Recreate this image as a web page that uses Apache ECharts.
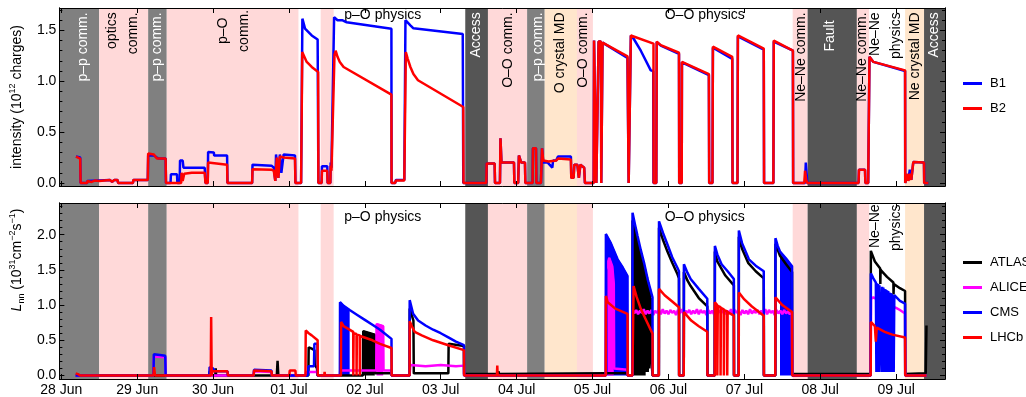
<!DOCTYPE html>
<html><head><meta charset="utf-8">
<script src="https://cdn.jsdelivr.net/npm/echarts@6/dist/echarts.min.js"></script>
<style>html,body{margin:0;padding:0;background:#fff}#c{width:1026px;height:397px}</style>
</head><body><div id="c"></div><script>
// ---------- DATA (time in days since 28 Jun 00:00) ----------
const dayTicks = [0,1,2,3,4,5,6,7,8,9,10,11];
const dayLabels = ['28 Jun','29 Jun','30 Jun','01 Jul','02 Jul','03 Jul','04 Jul','05 Jul','06 Jul','07 Jul','08 Jul','09 Jul'];
const topMajor = [0,0.5,1.0,1.5];
const topMinor = [0,0.1,0.2,0.3,0.4,0.5,0.6,0.7,0.8,0.9,1.0,1.1,1.2,1.3,1.4,1.5,1.6,1.7];
const botMajor = [0,0.5,1.0,1.5,2.0];
const botMinor = [0,0.1,0.2,0.3,0.4,0.5,0.6,0.7,0.8,0.9,1.0,1.1,1.2,1.3,1.4,1.5,1.6,1.7,1.8,1.9,2.0,2.1,2.2,2.3,2.4];

const regionStart = [-0.025,0.5,1.145,1.39,3.418,5.323,5.622,6.138,6.37,6.795,9.637,9.834,10.483,11.118,11.368];
const regionEnd   = [0.5,1.145,1.39,3.125,3.589,5.622,6.138,6.37,6.795,7.005,9.834,10.483,10.645,11.368,11.644];
const regionKind  = ['pp','comm','pp','comm','comm','access','comm','pp','md','comm','comm','access','comm','md','access'];

const topLabelText = ['p–p comm.','optics\ncomm.','p–p comm.','p–O\ncomm.','p–O physics','Access','O–O comm.','p–p comm.','O crystal MD','O–O comm.','O–O physics','Ne–Ne comm.','Fault','Ne–Ne comm.','Ne–Ne\nphysics','Ne crystal MD','Access'];
const botLabelText = ['p–O physics','O–O physics','Ne–Ne\nphysics'];

const b1 = [[0.194,0.26],[0.25,0.25],[0.255,0],[0.34,0],[0.345,0.02],[0.64,0.03],[0.67,0.01],[0.70,0.03],[0.74,0.03],[0.75,0],[0.945,0],[0.95,0.03],[1.14,0.03],[1.145,0.27],[1.22,0.27],[1.26,0.25],[1.29,0.24],[1.375,0.24],[1.38,0],[1.44,0],[1.445,0.085],[1.525,0.085],[1.53,0],[1.56,0],[1.565,0.22],[1.60,0.22],[1.61,0.15],[1.89,0.15],[1.9,0],[1.93,0],[1.935,0.305],[2.01,0.3],[2.015,0.27],[2.185,0.27],[2.19,0],[2.515,0],[2.52,0.18],[2.77,0.17],[2.80,0.15],[2.82,0.02],[2.83,0.28],[2.86,0.05],[2.88,0.28],[2.90,0.1],[2.93,0.28],[3.08,0.27],[3.085,0],[3.16,0],[3.177,1.615],[3.212,1.517],[3.30,1.45],[3.378,1.41],[3.388,0],[3.43,0],[3.435,0.165],[3.505,0.165],[3.51,0],[3.545,0],[3.55,0.2],[3.56,0.15],[3.585,0.15],[3.595,1.63],[3.62,1.63],[3.64,1.6],[3.70,1.6],[3.76,1.58],[4.35,1.515],[4.352,0],[4.40,0],[4.41,0.03],[4.52,0.03],[4.535,1.6],[4.56,1.6],[4.60,1.55],[4.64,1.52],[5.29,1.465],[5.297,0],[5.60,0],[5.605,0.19],[5.71,0.19],[5.715,0],[5.78,0],[5.787,0.44],[5.80,0.2],[5.965,0.2],[5.97,0],[6.02,0],[6.03,0.27],[6.06,0.2],[6.11,0.2],[6.115,0],[6.21,0],[6.215,0.34],[6.255,0.34],[6.26,0],[6.32,0],[6.335,0.34],[6.35,0.2],[6.41,0.2],[6.47,0.15],[6.48,0.22],[6.52,0.22],[6.545,0.26],[6.715,0.26],[6.72,0.05],[6.75,0.05],[6.76,0.18],[6.80,0.18],[6.82,0.05],[6.84,0.18],[6.89,0.15],[6.90,0],[7.015,0],[7.02,1.40],[7.045,1.40],[7.05,0],[7.07,0],[7.08,1.39],[7.11,1.39],[7.115,0],[7.125,0],[7.132,1.38],[7.46,1.23],[7.474,1.22],[7.476,0],[7.50,0],[7.505,1.45],[7.54,1.42],[7.636,1.30],[7.767,1.107],[7.80,1.1],[7.803,0],[7.84,0],[7.846,1.385],[7.899,1.35],[8.139,1.27],[8.142,0],[8.175,0],[8.178,1.185],[8.533,1.06],[8.537,0],[8.58,0],[8.586,1.33],[8.841,1.22],[8.845,0],[8.91,0],[8.915,1.44],[9.256,1.31],[9.26,0],[9.383,0],[9.388,1.39],[9.64,1.30],[9.643,0],[9.80,0],[9.81,0.2],[9.826,0.2],[9.83,0],[10.505,0],[10.51,0.13],[10.59,0.13],[10.595,0],[10.632,0],[10.649,1.24],[10.70,1.19],[11.118,1.10],[11.12,0],[11.14,0],[11.15,0.09],[11.16,0.02],[11.18,0.13],[11.20,0.03],[11.22,0.03],[11.226,0.205],[11.367,0.2],[11.37,0],[11.425,0]];

const b2 = [[0.194,0.26],[0.25,0.24],[0.255,0],[0.34,0],[0.345,0.02],[0.40,0.01],[0.45,0.025],[0.50,0.02],[0.64,0.03],[0.67,0.01],[0.70,0.03],[0.74,0.03],[0.75,0],[0.945,0],[0.95,0.03],[1.14,0.03],[1.145,0.29],[1.22,0.28],[1.26,0.24],[1.375,0.24],[1.38,0],[1.58,0],[1.585,0.1],[1.60,0.02],[1.62,0.09],[1.72,0.1],[1.89,0.1],[1.9,0],[1.93,0],[1.935,0.2],[2.185,0.18],[2.19,0],[2.515,0],[2.52,0.135],[2.77,0.13],[2.80,0.12],[2.82,0.02],[2.84,0.25],[2.86,0.05],[2.88,0.26],[2.93,0.25],[3.08,0.24],[3.085,0],[3.16,0],[3.175,1.287],[3.234,1.19],[3.30,1.14],[3.385,1.09],[3.388,0],[3.43,0],[3.435,0.12],[3.505,0.12],[3.51,0],[3.545,0],[3.55,0.17],[3.56,0.12],[3.585,0.12],[3.60,1.26],[3.615,1.30],[3.64,1.24],[3.67,1.19],[3.72,1.14],[4.35,0.868],[4.352,0],[4.40,0],[4.41,0.025],[4.52,0.025],[4.54,1.287],[4.565,1.22],[4.60,1.14],[4.64,1.07],[4.70,1.01],[5.297,0.747],[5.30,0],[5.60,0],[5.605,0.19],[5.71,0.19],[5.715,0],[5.78,0],[5.787,0.44],[5.80,0.2],[5.965,0.2],[5.97,0],[6.02,0],[6.03,0.27],[6.06,0.2],[6.11,0.2],[6.115,0],[6.21,0],[6.215,0.34],[6.255,0.34],[6.26,0],[6.32,0],[6.335,0.34],[6.35,0.22],[6.42,0.21],[6.52,0.22],[6.545,0.24],[6.715,0.23],[6.72,0.05],[6.75,0.05],[6.76,0.18],[6.80,0.18],[6.82,0.05],[6.84,0.18],[6.89,0.15],[6.90,0],[7.015,0],[7.02,1.40],[7.045,1.40],[7.05,0],[7.07,0],[7.08,1.39],[7.11,1.39],[7.115,0],[7.125,0],[7.132,1.38],[7.461,1.245],[7.474,1.24],[7.476,0],[7.50,0],[7.505,1.45],[7.803,1.37],[7.805,0],[7.84,0],[7.846,1.39],[7.899,1.355],[8.139,1.28],[8.142,0],[8.175,0],[8.178,1.19],[8.533,1.07],[8.537,0],[8.58,0],[8.586,1.34],[8.841,1.24],[8.845,0],[8.91,0],[8.915,1.45],[9.256,1.32],[9.26,0],[9.383,0],[9.388,1.40],[9.64,1.30],[9.643,0],[9.79,0],[9.80,0.12],[9.815,0.03],[9.83,0],[10.505,0],[10.51,0.13],[10.59,0.13],[10.595,0],[10.632,0],[10.649,1.24],[10.70,1.19],[11.118,1.107],[11.12,0],[11.14,0],[11.15,0.09],[11.16,0.02],[11.18,0.09],[11.20,0.03],[11.22,0.03],[11.226,0.205],[11.367,0.2],[11.37,0],[11.425,0]];

const atlas = [[0.19,0],[1.95,0],[1.955,0.06],[1.96,0],[2.03,0],[2.035,0.1],[2.04,0],[2.84,0],[2.85,0.21],[2.86,0],[3.256,0],[3.26,0.4],[3.30,0.38],[3.335,0.36],[3.34,0.15],[3.37,0.1],[3.375,0],[3.975,0],[3.979,0.63],[4.131,0.58],[4.135,0.03],[4.351,0.03],[4.353,0],[4.589,0],[4.591,0.95],[4.62,0.85],[4.64,0.78],[4.645,0.03],[5.10,0.03],[5.104,0.45],[5.306,0.42],[5.308,0.02],[5.75,0.02],[5.76,0.06],[5.77,0.02],[7.176,0.03],[7.46,0.03],[7.463,0],[7.525,0],[7.527,2.2],[7.56,2.05],[7.593,1.9],[7.636,1.72],[7.68,1.55],[7.70,1.47],[7.707,0.05],[7.717,1.4],[7.727,0.05],[7.737,1.32],[7.747,0.1],[7.757,1.22],[7.767,0.2],[7.772,1.1],[7.776,0.25],[7.788,0.25],[7.79,0],[7.874,0],[7.876,2.1],[7.93,1.92],[7.987,1.76],[8.05,1.6],[8.118,1.44],[8.139,1.38],[8.141,0],[8.202,0],[8.204,1.47],[8.25,1.35],[8.293,1.27],[8.4,1.1],[8.512,0.98],[8.514,0],[8.61,0],[8.612,1.76],[8.644,1.62],[8.75,1.42],[8.862,1.28],[8.864,0],[8.926,0],[8.928,1.97],[8.97,1.8],[9.05,1.6],[9.15,1.48],[9.256,1.38],[9.258,0],[9.408,0],[9.41,1.87],[9.47,1.7],[9.55,1.58],[9.629,1.47],[9.631,0.02],[10.665,0.02],[10.667,1.77],[10.72,1.62],[10.79,1.52],[10.792,1.3],[10.795,1.5],[10.88,1.4],[10.964,1.32],[10.966,1.15],[10.97,1.3],[11.05,1.24],[11.118,1.2],[11.12,0.02],[11.39,0.03],[11.40,0.71]];
// dense bunch-by-bunch oscillation regions drawn as filled envelopes
const atlasBand = [[3.979,0.63],[4.131,0.58],[4.132,null],[7.527,2.2],[7.56,2.05],[7.593,1.9],[7.636,1.72],[7.68,1.55],[7.70,1.47]];

const alice = [[0.19,0],[1.215,0],[1.22,0.27],[1.37,0.26],[1.375,0],[2.535,0],[2.54,0.06],[2.77,0.05],[2.775,0],[3.22,0],[3.225,0.05],[3.378,0.05],[3.38,0],[3.671,0],[3.675,0.07],[4.15,0.07],[4.154,0.73],[4.242,0.70],[4.246,0.07],[4.351,0.07],[4.353,0],[4.589,0],[4.60,0.15],[4.8,0.13],[5.0,0.15],[5.2,0.13],[5.306,0.14],[5.308,0],[7.176,0],[7.18,1.5],[7.22,1.67],[7.26,1.55],[7.28,1.3],[7.285,0.1],[7.46,0.08],[7.463,0],[7.525,0],[7.53,0.93],[7.55,0.88],[7.575,0.93],[7.60,0.87],[7.625,0.92],[7.65,0.89],[7.675,0.94],[7.70,0.87],[7.725,0.92],[7.75,0.88],[7.775,0.93],[7.80,0.86],[7.825,0.92],[7.85,0.89],[7.875,0.93],[7.90,0.87],[7.925,0.94],[7.95,0.88],[7.975,0.92],[8.00,0.87],[8.025,0.93],[8.05,0.89],[8.075,0.92],[8.10,0.86],[8.125,0.93],[8.15,0.88],[8.175,0.94],[8.20,0.87],[8.225,0.92],[8.25,0.89],[8.275,0.93],[8.30,0.87],[8.325,0.92],[8.35,0.88],[8.375,0.94],[8.40,0.87],[8.425,0.93],[8.45,0.89],[8.475,0.92],[8.50,0.86],[8.525,0.93],[8.55,0.88],[8.575,0.92],[8.60,0.87],[8.625,0.94],[8.65,0.88],[8.675,0.92],[8.70,0.89],[8.725,0.93],[8.75,0.87],[8.775,0.92],[8.80,0.88],[8.825,0.94],[8.85,0.87],[8.875,0.93],[8.90,0.89],[8.925,0.92],[8.95,0.86],[8.975,0.93],[9.00,0.88],[9.025,0.92],[9.05,0.87],[9.075,0.94],[9.10,0.88],[9.125,0.92],[9.15,0.89],[9.175,0.93],[9.20,0.87],[9.225,0.92],[9.25,0.88],[9.275,0.94],[9.30,0.87],[9.325,0.93],[9.35,0.89],[9.375,0.92],[9.40,0.86],[9.425,0.93],[9.45,0.88],[9.475,0.92],[9.50,0.87],[9.525,0.93],[9.55,0.88],[9.575,0.91],[9.60,0.87],[9.625,0.9],[9.629,0.88],[9.631,0],[10.665,0],[10.67,1.09],[10.70,1.11],[10.75,1.08],[10.80,1.10],[10.83,1.07],[10.88,1.03],[10.95,0.98],[11.0,0.96],[11.05,0.93],[11.118,0.88],[11.12,0],[11.4,0]];
const aliceBand = [[4.154,0.73],[4.20,0.72],[4.242,0.70],[4.243,null],[7.20,1.6],[7.22,1.67],[7.26,1.55],[7.28,1.3]];

const cms = [[0.19,0],[1.215,0],[1.22,0.30],[1.30,0.29],[1.37,0.28],[1.375,0],[1.95,0],[1.955,0.12],[2.0,0.1],[2.03,0.06],[2.19,0.06],[2.195,0],[2.535,0],[2.54,0.08],[2.77,0.07],[2.775,0],[3.25,0],[3.256,0.13],[3.33,0.13],[3.335,0.45],[3.375,0.45],[3.378,0],[3.671,0],[3.673,1.04],[3.72,0.99],[3.80,0.93],[3.9,0.86],[4.0,0.79],[4.1,0.72],[4.2,0.65],[4.351,0.52],[4.353,0],[4.589,0],[4.591,1.07],[4.636,0.876],[4.702,0.78],[4.8,0.71],[4.9,0.65],[5.0,0.6],[5.1,0.54],[5.2,0.48],[5.306,0.43],[5.308,0],[7.174,0],[7.176,2.01],[7.241,1.88],[7.33,1.65],[7.40,1.53],[7.461,1.41],[7.463,0],[7.525,0],[7.527,2.31],[7.56,2.14],[7.593,1.98],[7.636,1.78],[7.679,1.6],[7.73,1.35],[7.79,1.11],[7.792,0],[7.874,0],[7.876,2.19],[7.93,2.02],[7.987,1.86],[8.05,1.68],[8.118,1.53],[8.139,1.48],[8.141,0],[8.202,0],[8.204,1.58],[8.25,1.46],[8.293,1.37],[8.4,1.23],[8.512,1.09],[8.514,0],[8.61,0],[8.612,1.84],[8.644,1.72],[8.7,1.58],[8.78,1.48],[8.862,1.37],[8.864,0],[8.926,0],[8.928,2.06],[8.97,1.88],[9.06,1.65],[9.15,1.56],[9.256,1.48],[9.258,0],[9.408,0],[9.41,1.95],[9.44,1.84],[9.47,1.76],[9.55,1.66],[9.629,1.55],[9.631,0],[10.665,0],[10.667,1.45],[10.70,1.38],[10.733,1.32],[10.74,0.05],[10.748,1.31],[10.756,0.05],[10.764,1.30],[10.772,0.05],[10.78,1.28],[10.80,1.27],[10.808,0.05],[10.816,1.26],[10.824,0.05],[10.832,1.25],[10.84,0.05],[10.848,1.23],[10.856,0.05],[10.864,1.22],[10.872,0.05],[10.88,1.21],[10.888,0.05],[10.896,1.20],[10.904,0.05],[10.912,1.18],[10.92,0.05],[10.928,1.17],[10.936,0.05],[10.944,1.16],[10.96,1.15],[10.968,0.05],[10.976,1.14],[11.05,1.06],[11.118,1.02],[11.12,0],[11.4,0]];
const cmsBand = [[3.673,1.04],[3.72,0.99],[3.80,0.93],[3.802,null],[7.176,2.01],[7.241,1.88],[7.33,1.65],[7.40,1.53],[7.461,1.41],[7.462,null],[9.47,1.76],[9.55,1.66],[9.62,1.56]];

const lhcb = [[0.19,0.03],[0.22,0.02],[0.25,0],[1.215,0],[1.223,0.12],[1.235,0],[1.97,0],[1.975,0.83],[1.982,0],[1.99,0.06],[2.19,0.06],[2.195,0],[2.535,0],[2.54,0.07],[2.77,0.06],[2.775,0],[3.005,0],[3.01,0.07],[3.085,0.07],[3.09,0],[3.218,0],[3.221,0.64],[3.26,0.6],[3.30,0.57],[3.378,0.5],[3.38,0],[3.465,0],[3.47,0.05],[3.475,0],[3.685,0],[3.687,0.76],[3.72,0.7],[3.77,0.67],[3.847,0.62],[3.848,0],[3.852,0.6],[3.89,0.59],[3.891,0],[3.895,0.58],[3.933,0.57],[3.934,0],[3.938,0.56],[4.1,0.5],[4.2,0.45],[4.351,0.39],[4.353,0],[4.589,0],[4.591,0.77],[4.62,0.7],[4.657,0.62],[4.75,0.57],[4.9,0.5],[5.1,0.43],[5.306,0.36],[5.308,0],[5.74,0],[5.745,0.14],[5.75,0],[7.174,0],[7.176,1.13],[7.2,1.04],[7.3,0.95],[7.461,0.876],[7.463,0],[7.525,0],[7.541,1.27],[7.58,1.12],[7.636,0.946],[7.7,0.8],[7.79,0.595],[7.792,0],[7.874,0],[7.876,1.23],[7.95,1.14],[8.05,1.05],[8.139,0.97],[8.141,0],[8.202,0],[8.204,0.9],[8.3,0.78],[8.4,0.7],[8.512,0.62],[8.514,0],[8.61,0],[8.612,1.04],[8.643,1.0],[8.644,0],[8.65,0.99],[8.686,0.97],[8.687,0],[8.692,0.96],[8.73,0.94],[8.731,0],[8.736,0.93],[8.774,0.91],[8.775,0],[8.78,0.9],[8.862,0.85],[8.864,0],[8.926,0],[8.928,1.18],[9.0,1.08],[9.1,0.98],[9.256,0.85],[9.258,0],[9.408,0],[9.41,1.11],[9.5,1.0],[9.629,0.9],[9.631,0],[10.665,0],[10.667,0.76],[10.72,0.7],[10.733,0.48],[10.745,0.68],[10.85,0.62],[10.95,0.58],[11.118,0.54],[11.12,0],[11.4,0]];

// ---------- STYLE / LAYOUT ----------
const FONT = 'Liberation Sans, Arial, sans-serif';
const LW = 2.5;
const regionColor = {pp:'#808080', access:'#555555', comm:'#ffd9d9', md:'#ffe6cc'};
const W = '#ffffff', K = '#000000';
const topLabelLayout = [
  {d:0.29,v:1.677,m:'v',c:W},{d:0.809,v:1.677,m:'v',c:K},{d:1.263,v:1.677,m:'v',c:W},{d:2.275,v:1.495,m:'vc',c:K},
  {d:3.729,v:1.647,m:'h',c:K},{d:5.468,v:1.677,m:'v',c:W},{d:5.884,v:1.677,m:'v',c:K},{d:6.279,v:1.677,m:'v',c:W},
  {d:6.572,v:1.677,m:'v',c:K},{d:6.870,v:1.677,m:'v',c:K},{d:7.951,v:1.647,m:'h',c:K},{d:9.748,v:1.677,m:'v',c:K},
  {d:10.133,v:1.598,m:'v',c:W},{d:10.557,v:1.677,m:'v',c:K},{d:10.868,v:1.677,m:'v',c:K},{d:11.249,v:1.677,m:'v',c:K},
  {d:11.499,v:1.677,m:'v',c:W}];
const botLabelLayout = [{d:3.729,v:2.253,m:'h',c:K},{d:7.951,v:2.253,m:'h',c:K},{d:10.868,v:2.43,m:'v',c:K}];

const chart = echarts.init(document.getElementById('c'), null, {renderer:'canvas'});

function markAreaData(){
  return regionStart.map((s,i)=>[{xAxis:s, itemStyle:{color:regionColor[regionKind[i]], opacity:1}},{xAxis:regionEnd[i]}]);
}
function labelSeries(texts, layout, xi, yi){
  return {type:'custom', xAxisIndex:xi, yAxisIndex:yi, silent:true, z:2, clip:false,
    data: layout.map((l,i)=>[l.d,l.v,i]),
    renderItem:(params, api)=>{
      const i = api.value(2), l = layout[i];
      const p = api.coord([api.value(0), api.value(1)]);
      const vert = l.m !== 'h';
      return {type:'text', x:p[0], y:p[1], rotation: vert ? Math.PI/2 : 0,
        style:{text:texts[i], fill:l.c, font:'14px '+FONT, lineHeight:21,
          align: l.m==='v' ? 'right' : (l.m==='vc' ? 'center' : 'left'), verticalAlign:'middle'}};
    }};
}
function line(name, data, color, xi, yi){
  return {name, type:'line', data, xAxisIndex:xi, yAxisIndex:yi, symbol:'none', showSymbol:false,
    lineStyle:{color, width:LW}, itemStyle:{color}, z:3, silent:true};
}
function band(name, data, color){
  return {name, type:'line', data, xAxisIndex:2, yAxisIndex:4, symbol:'none', showSymbol:false, connectNulls:false,
    lineStyle:{color, width:1.5}, itemStyle:{color}, areaStyle:{color, opacity:1}, z:3, silent:true};
}
function xAx(grid, pos, labels){
  return {type:'value', gridIndex:grid, position:pos, min:-0.025, max:11.644, z:10,
    axisLine:{show:true, onZero:false, lineStyle:{color:'#000', width:1}},
    axisTick:{show:true, inside:true, length:5, customValues:dayTicks, lineStyle:{color:'#000'}},
    axisLabel:{show:labels, customValues:dayTicks, margin:4, fontSize:14, fontFamily:FONT, color:'#000',
      formatter:(v)=>dayLabels[Math.round(v)]},
    splitLine:{show:false}};
}
function yAx(grid, pos, min, max, ticks, len, labels, extra){
  return Object.assign({type:'value', gridIndex:grid, position:pos, min, max, z:10,
    axisLine:{show:true, onZero:false, lineStyle:{color:'#000', width:1}},
    axisTick:{show:true, inside:true, length:len, customValues:ticks, lineStyle:{color:'#000'}},
    axisLabel:{show:labels, customValues:ticks, margin:3, fontSize:14, fontFamily:FONT, color:'#000',
      formatter:(v)=>v.toFixed(1)},
    splitLine:{show:false}}, extra||{});
}

const nameStyleTop = {fontSize:14, fontFamily:FONT, color:'#000', lineHeight:18,
  rich:{sup:{fontSize:9, fontFamily:FONT, color:'#000', verticalAlign:'top', lineHeight:18}}};
const nameStyleBot = {fontSize:14, fontFamily:FONT, color:'#000', lineHeight:18, padding:[0,0,0,62],
  rich:{it:{fontSize:14, fontStyle:'italic', fontFamily:FONT, color:'#000'},
        sub:{fontSize:9, fontFamily:FONT, color:'#000', verticalAlign:'bottom', lineHeight:18},
        sup:{fontSize:9, fontFamily:FONT, color:'#000', verticalAlign:'top', lineHeight:18}}};

const legendBase = {orient:'vertical', left:958, icon:'rect', itemWidth:19, itemHeight:3, itemGap:12, selectedMode:false,
  textStyle:{fontSize:13, fontFamily:FONT, color:'#000', padding:[0,0,0,3]}};

const option = {
  animation:false,
  backgroundColor:'#ffffff',
  textStyle:{fontFamily:FONT},
  grid:[{left:57, top:8, width:888, height:178},{left:57, top:203, width:888, height:178}],
  xAxis:[xAx(0,'bottom',false), xAx(0,'top',false), xAx(1,'bottom',true), xAx(1,'top',false)],
  yAxis:[
    yAx(0,'left',-0.03,1.72,topMajor,5,true,{name:'intensity (10{sup|12} charges)', nameLocation:'middle', nameGap:30, nameTextStyle:nameStyleTop}),
    yAx(0,'left',-0.03,1.72,topMinor,3,false),
    yAx(0,'right',-0.03,1.72,topMajor,5,false),
    yAx(0,'right',-0.03,1.72,topMinor,3,false),
    yAx(1,'left',-0.05,2.45,botMajor,5,true,{name:'{it|L}{sub|nn} (10{sup|31}cm{sup|−2}s{sup|−1})', nameLocation:'middle', nameGap:30, nameTextStyle:nameStyleBot}),
    yAx(1,'left',-0.05,2.45,botMinor,3,false),
    yAx(1,'right',-0.05,2.45,botMajor,5,false),
    yAx(1,'right',-0.05,2.45,botMinor,3,false)
  ],
  legend:[
    Object.assign({}, legendBase, {data:['B1','B2'], top:72}),
    Object.assign({}, legendBase, {data:['ATLAS','ALICE','CMS','LHCb'], top:251})
  ],
  series:[
    {type:'line', xAxisIndex:0, yAxisIndex:0, data:[], z:1, silent:true, markArea:{silent:true, data:markAreaData()}},
    {type:'line', xAxisIndex:2, yAxisIndex:4, data:[], z:1, silent:true, markArea:{silent:true, data:markAreaData()}},
    labelSeries(topLabelText, topLabelLayout, 0, 0),
    labelSeries(botLabelText, botLabelLayout, 2, 4),
    line('B1', b1, '#0000ff', 0, 0),
    line('B2', b2, '#ff0000', 0, 0),
    line('ATLAS', atlas, '#000000', 2, 4),
    band('cmsBand', cmsBand, '#0000ff'),
    band('atlasBand', atlasBand, '#000000'),
    line('ALICE', alice, '#ff00ff', 2, 4),
    band('aliceBand', aliceBand, '#ff00ff'),
    line('CMS', cms, '#0000ff', 2, 4),
    line('LHCb', lhcb, '#ff0000', 2, 4)
  ]
};
chart.setOption(option);
</script></body></html>
